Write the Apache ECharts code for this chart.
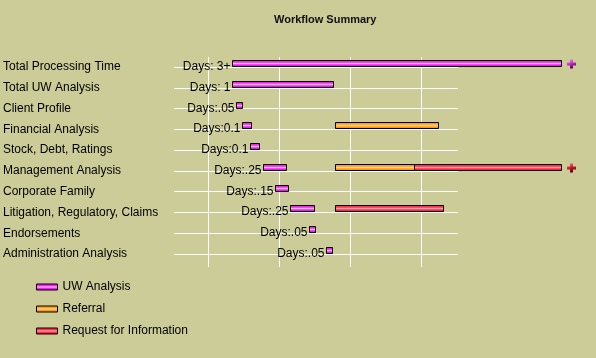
<!DOCTYPE html>
<html>
<head>
<meta charset="utf-8">
<script src="https://cdn.jsdelivr.net/npm/echarts@6/dist/echarts.min.js"></script>
<style>html,body{margin:0;padding:0;background:#cccc99;}#c{width:596px;height:358px;}</style>
</head>
<body>
<div id="c"></div>
<script>
const categories = ['Total Processing Time', 'Total UW Analysis', 'Client Profile', 'Financial Analysis', 'Stock, Debt, Ratings', 'Management Analysis', 'Corporate Family', 'Litigation, Regulatory, Claims', 'Endorsements', 'Administration Analysis'];
const uwStart = [0, 0, 0.04, 0.10, 0.175, 0.305, 0.425, 0.575, 0.76, 0.925];
const uwEnd = [3.245, 1.0, 0.10, 0.19, 0.27, 0.535, 0.555, 0.805, 0.82, 0.99];
const uwDays = ['Days: 3+', 'Days: 1', 'Days:.05', 'Days:0.1', 'Days:0.1', 'Days:.25', 'Days:.15', 'Days:.25', 'Days:.05', 'Days:.05'];
const uwMore = ['Total Processing Time'];
const referralRows = ['Financial Analysis', 'Management Analysis'];
const referralStart = [1.02, 1.02];
const referralEnd = [2.035, 1.795];
const referralMore = [];
const rfiRows = ['Management Analysis', 'Litigation, Regulatory, Claims'];
const rfiStart = [1.795, 1.02];
const rfiEnd = [3.245, 2.085];
const rfiMore = ['Management Analysis'];

function grad(c1, c2, c3) {
  return {type: 'linear', x: 0, y: 0, x2: 0, y2: 1, colorStops: [
    {offset: 0, color: c1}, {offset: 0.3, color: c1}, {offset: 0.5, color: c2}, {offset: 0.7, color: c1}, {offset: 1, color: c3}]};
}
function plusGrad(a, b, c) {
  return {type: 'linear', x: 0, y: 0, x2: 0.4, y2: 1, colorStops: [
    {offset: 0, color: a}, {offset: 0.5, color: b}, {offset: 1, color: c}]};
}
const styles = {
  uw: {fill: grad('#f022f0', '#ffb8ff', '#d010d0'), plus: plusGrad('#ff8cff', '#cc33cc', '#600060')},
  ref: {fill: grad('#ff9c12', '#ffd890', '#ee8a00'), plus: plusGrad('#ffd080', '#ff9900', '#804000')},
  rfi: {fill: grad('#ff2c48', '#ffa0a8', '#e01830'), plus: plusGrad('#ff7585', '#cc2233', '#600010')}
};

function makeRender(key, more, labels) {
  return function (params, api) {
    const row = api.value(2);
    const p0 = api.coord([api.value(0), row]);
    const p1 = api.coord([api.value(1), row]);
    const c = Math.round(p0[1]);
    const x0 = Math.round(p0[0]) + 0.5, x1 = Math.round(p1[0]) + 0.5;
    const children = [{
      type: 'rect',
      shape: {x: x0, y: c - 6.5, width: x1 - x0, height: 6},
      style: {fill: styles[key].fill, stroke: '#000', lineWidth: 1}
    }];
    if (labels) {
      children.push({
        type: 'text',
        style: {text: labels[params.dataIndex], x: x0 - 2, y: c, align: 'right', verticalAlign: 'middle',
          fontSize: 12, fontFamily: '"Liberation Sans", Arial, sans-serif', fill: '#000'}
      });
    }
    if (more.indexOf(categories[row]) >= 0) {
      const cx = x1 + 10, cy = c - 3, h = 4.5, a = 1.5;
      children.push({
        type: 'polygon',
        shape: {points: [[cx - a, cy - h], [cx + a, cy - h], [cx + a, cy - a], [cx + h, cy - a], [cx + h, cy + a], [cx + a, cy + a],
          [cx + a, cy + h], [cx - a, cy + h], [cx - a, cy + a], [cx - h, cy + a], [cx - h, cy - a], [cx - a, cy - a]]},
        style: {fill: styles[key].plus}
      });
    }
    return {type: 'group', children: children};
  };
}

const uwData = categories.map((c, i) => [uwStart[i], uwEnd[i], i]);
const refData = referralRows.map((r, i) => [referralStart[i], referralEnd[i], categories.indexOf(r)]);
const rfiData = rfiRows.map((r, i) => [rfiStart[i], rfiEnd[i], categories.indexOf(r)]);

const chart = echarts.init(document.getElementById('c'), null, {renderer: 'canvas'});
const font = '"Liberation Sans", Arial, sans-serif';
chart.setOption({
  backgroundColor: '#cccc99',
  animation: false,
  title: {
    text: 'Workflow Summary', left: 269, top: 9,
    textStyle: {fontSize: 11, fontWeight: 'bold', fontFamily: font, color: '#111'}
  },
  legend: {
    orient: 'vertical', left: 31, top: 276, itemWidth: 21, itemHeight: 6, itemGap: 10,
    selectedMode: false,
    textStyle: {fontSize: 12, fontFamily: font, color: '#000'},
    data: [
      {name: 'UW Analysis', icon: 'rect', itemStyle: {color: styles.uw.fill, borderColor: '#000', borderWidth: 1}},
      {name: 'Referral', icon: 'rect', itemStyle: {color: styles.ref.fill, borderColor: '#000', borderWidth: 1}},
      {name: 'Request for Information', icon: 'rect', itemStyle: {color: styles.rfi.fill, borderColor: '#000', borderWidth: 1}}
    ]
  },
  grid: [
    {left: 208, top: 57, width: 213, height: 210},
    {left: 174, top: 67, width: 284, height: 187},
    {left: 232, top: 67, width: 329, height: 187}
  ],
  xAxis: [
    {gridIndex: 0, type: 'value', min: 0, max: 3, interval: 1, axisLine: {show: false}, axisTick: {show: false}, axisLabel: {show: false},
      splitLine: {show: true, lineStyle: {color: '#ffffff', width: 1}}},
    {gridIndex: 1, type: 'value', min: 0, max: 1, show: false},
    {gridIndex: 2, type: 'value', min: 0, max: 3.245, show: false}
  ],
  yAxis: [
    {gridIndex: 0, type: 'value', min: 0, max: 1, show: false},
    {gridIndex: 1, type: 'category', data: categories, inverse: true, boundaryGap: false,
      axisLine: {show: false}, axisTick: {show: false}, axisLabel: {show: false},
      splitLine: {show: true, interval: 0, lineStyle: {color: '#ffffff', width: 1}}},
    {gridIndex: 2, type: 'category', data: categories, inverse: true, boundaryGap: false,
      axisLine: {show: false}, axisTick: {show: false}, splitLine: {show: false},
      axisLabel: {show: true, interval: 0, align: 'left', margin: 229, fontSize: 12, fontFamily: font, color: '#000', padding: [0, 0, 2, 0]}}
  ],
  series: [
    {name: 'UW Analysis', type: 'custom', xAxisIndex: 2, yAxisIndex: 2, clip: false, data: uwData,
      encode: {x: [0, 1], y: 2}, itemStyle: {color: '#f022f0'}, renderItem: makeRender('uw', uwMore, uwDays)},
    {name: 'Referral', type: 'custom', xAxisIndex: 2, yAxisIndex: 2, clip: false, data: refData,
      encode: {x: [0, 1], y: 2}, itemStyle: {color: '#ff9c12'}, renderItem: makeRender('ref', referralMore, null)},
    {name: 'Request for Information', type: 'custom', xAxisIndex: 2, yAxisIndex: 2, clip: false, data: rfiData,
      encode: {x: [0, 1], y: 2}, itemStyle: {color: '#ff2c48'}, renderItem: makeRender('rfi', rfiMore, null)}
  ]
});
</script>
</body>
</html>
